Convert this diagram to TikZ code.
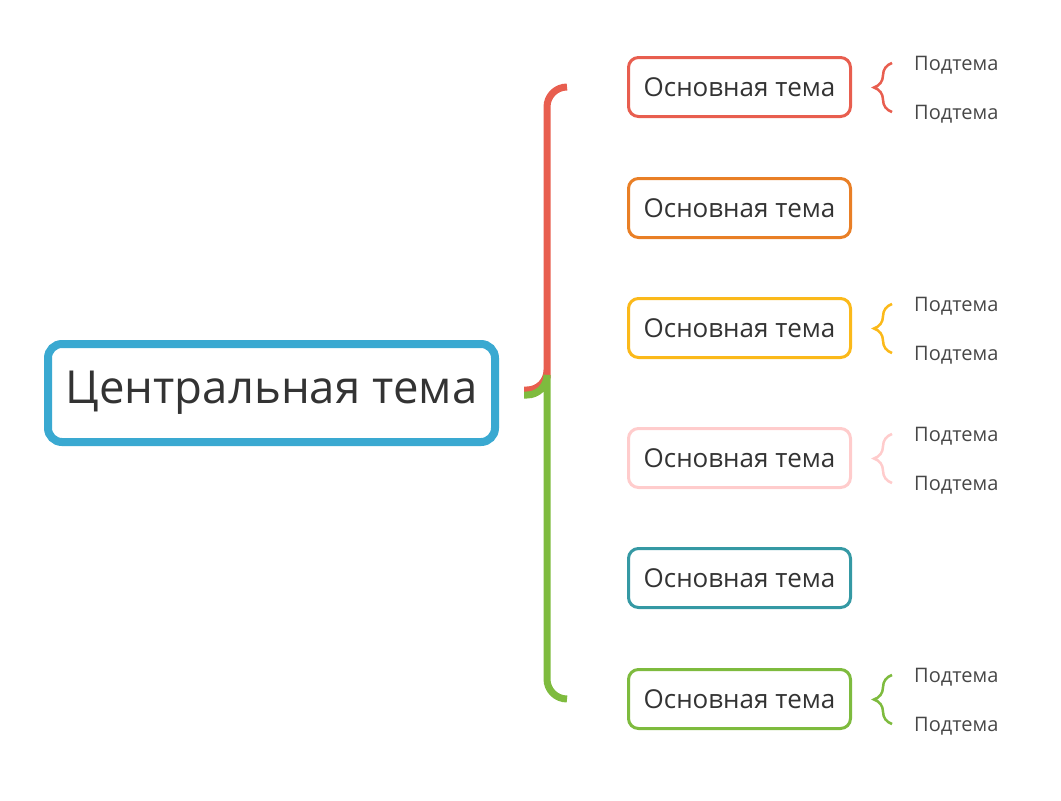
\documentclass[tikz,border=0pt]{standalone}
\usepackage{fontspec}
\setmainfont{Open Sans}
\usetikzlibrary{calc}
\usetikzlibrary{decorations.pathreplacing}

\definecolor{centralblue}{HTML}{3AA9D1}
\definecolor{topicred}{HTML}{E85E4F}
\definecolor{topicorange}{HTML}{E97F26}
\definecolor{topicyellow}{HTML}{FBB91A}
\definecolor{topicpink}{HTML}{FFCCCC}
\definecolor{topicteal}{HTML}{3599A4}
\definecolor{topicgreen}{HTML}{7EBB3E}
\definecolor{textgray}{HTML}{333333}

\begin{document}
\begin{tikzpicture}[
      x=1pt, y=-1pt,
      central/.style={draw=centralblue, line width=8pt, rounded corners=14pt,
        minimum width=447pt, minimum height=98pt, inner sep=0pt,
        text=textgray, font=\fontsize{45.5}{52}\selectfont},
      topic/.style={line width=3pt, rounded corners=10pt,
        minimum width=222pt, minimum height=59pt, inner sep=0pt,
        text=textgray, font=\fontsize{26}{30}\selectfont},
      subtopic/.style={anchor=west, inner sep=0pt, text=textgray!90,
        font=\fontsize{20}{24}\selectfont},
      fork/.style={line width=7pt, rounded corners=20pt},
      subbrace/.style={line width=2.5pt, decorate,
        decoration={brace, amplitude=18pt}}
    ]
    \useasboundingbox (0,0) rectangle (1061,801);
    % Центральная тема
    \node[central] (center) at (271.5,393) {Центральная тема};
    % Основные темы
    \foreach \i/\y/\c in {1/87/topicred, 2/208/topicorange, 3/328/topicyellow,
        4/458/topicpink, 5/578/topicteal, 6/699/topicgreen}
      \node[topic, draw=\c] (t\i) at (739.5,\y) {Основная тема};
    % Скобки от центра
    \coordinate (forktop) at ($(center.east)+(25,-3)$);
    \coordinate (forkbot) at ($(center.east)+(25,2)$);
    \draw[fork, topicred] ($(t1.west)+(-60,0)$) -| ($(forktop)+(23,0)$) |- (forktop);
    \draw[fork, topicgreen] (forkbot) -| ($(forkbot)+(23,0)$) |- ($(t6.west)+(-60,0)$);
    % Подтемы
    \foreach \i/\c in {1/topicred, 3/topicyellow, 4/topicpink, 6/topicgreen} {
      \node[subtopic] (s\i a) at ($(t\i.east)+(62,-22)$) {Подтема};
      \node[subtopic] (s\i b) at ($(t\i.east)+(62,27)$) {Подтема};
      \draw[subbrace, \c] ($(s\i b.west)+(-22,-2)$) -- ($(s\i a.west)+(-22,-2)$);
    }
  \end{tikzpicture}
\end{document}
